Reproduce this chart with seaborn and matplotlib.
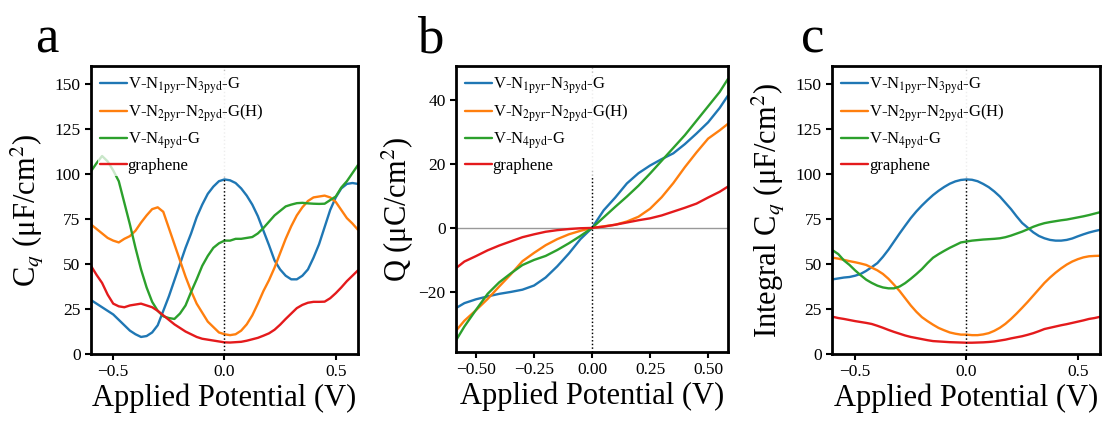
import numpy as np
import pandas as pd
import matplotlib
matplotlib.use("Agg")
import matplotlib.pyplot as plt
import seaborn as sns

# potential grids (V)
V = np.round(np.arange(-0.6, 0.6001, 0.025), 3)
V_Q = [-0.585, -0.55, -0.5, -0.45, -0.4, -0.35, -0.3, -0.25, -0.2, -0.15, -0.1, -0.05, 0.0,
       0.05, 0.1, 0.15, 0.2, 0.25, 0.3, 0.35, 0.4, 0.45, 0.5, 0.55, 0.585]

labels = [r"V-N$_{\rm 1pyr}$-N$_{\rm 3pyd}$-G",
          r"V-N$_{\rm 2pyr}$-N$_{\rm 2pyd}$-G(H)",
          r"V-N$_{\rm 4pyd}$-G",
          "graphene"]
colors = ["#1f77b4", "#ff7f0e", "#2ca02c", "#e41a1c"]

# (a) differential quantum capacitance, uF/cm2
cq_n1n3 = [30, 28, 26, 24, 22, 19, 16, 13, 11, 9.5, 10, 12, 16, 24, 32, 41, 50, 59, 67, 76, 83, 89, 93, 96, 97,
           96.5, 95, 92, 88, 83, 76.6, 68.5, 60.5, 52, 47, 43.5, 41.5, 41.5, 43.5, 47, 53.5, 61, 70.5, 80, 87,
           92, 94.5, 95, 94.5]
cq_n2n2 = [72, 69.5, 67, 64.5, 63, 62, 64, 65.5, 68.5, 73, 77, 80.5, 81.5, 79, 70, 61, 52, 43, 35, 28, 23, 18, 15, 12, 11,
           10.5, 11, 13, 16.5, 21.5, 28, 35, 41, 48, 56, 64, 71, 77, 81.5, 85, 87, 87.5, 88, 87, 84.5,
           80, 75.5, 72.5, 69]
cq_n4 = [101.5, 106, 110, 107, 102, 96, 84, 72, 59, 47, 37, 29, 24, 21, 20, 19.5, 22.5, 27, 34.5, 41.5, 49, 54.5, 59, 61.5, 63,
         63, 64, 64, 64.5, 65, 67, 70, 73.5, 77, 79.5, 82, 83, 83.8, 84, 83.7, 83.5, 83.4, 83.5, 85.5, 87.5,
         92.5, 96, 100.5, 105]
cq_gr = [49, 44, 39.5, 33, 28, 26.5, 26, 27, 27.5, 28, 27, 26, 24, 21.5, 19, 16.5, 14.5, 12.5, 11, 9.5, 8.5, 8, 7.5, 7, 6.5,
         6.4, 6.6, 6.8, 7.4, 8.2, 9, 10.2, 11.5, 13.5, 16.3, 19.5, 22.5, 25.5, 27.3, 28.5, 29, 29, 29.1, 31, 33.8,
         37, 40.5, 43.5, 46.5]

# (b) surface charge, uC/cm2
q_n1n3 = [-25, -23.5, -22.3, -21.4, -20.6, -20, -19.3, -18, -15.5, -12, -8, -3.5, 0,
          5.5, 9.5, 13.9, 17.1, 19.5, 21.5, 23.3, 26.2, 29.5, 33, 37.5, 41.3]
q_n2n2 = [-32, -29, -25.7, -22.2, -18.3, -14.5, -10.4, -7.8, -5.4, -3.5, -2, -0.9, 0,
          0.5, 1, 2, 3.5, 6, 9.6, 14, 19, 23.6, 27.9, 30.5, 32.5]
q_n4 = [-35, -30.8, -25.6, -20.6, -17, -14.2, -11.6, -10, -8.75, -6.9, -4.8, -2.5, 0,
        3.3, 6.6, 9.8, 13.2, 17, 21, 25, 29, 33.5, 38, 42.5, 46.5]
q_gr = [-12.5, -10.5, -8.8, -7, -5.5, -4.2, -2.9, -2, -1.2, -0.7, -0.35, -0.1, 0,
        0.4, 1.0, 1.7, 2.4, 3.0, 3.9, 5.1, 6.3, 7.6, 9.5, 11.3, 12.9]

# (c) integral quantum capacitance, uF/cm2
icq_n1n3 = [41.5, 42, 42.5, 42.8, 43.5, 44.5, 46.2, 48.3, 50.5, 54, 58, 62.5, 67, 71.3, 75.5, 79.2, 82.5, 85.5, 88.3, 90.7,
            92.8, 94.6, 95.9, 96.7, 97,
            96.8, 96, 94.5, 92.7, 90.3, 87.5, 84, 80.5, 76.5, 72.8, 70.2, 67.6, 65.6, 64.3, 63.4, 63, 63, 63.4, 64.2, 65.4,
            66.5, 67.5, 68.3, 69]
icq_n2n2 = [53.5, 53, 52.3, 51.6, 51, 50.3, 49.5, 48, 46.5, 44.5, 41.8, 38.5, 35, 31, 27, 23.5, 20.5, 18.3, 16.3, 14.5,
            13.2, 12, 11.3, 10.8, 10.8,
            10.5, 10.5, 10.9, 11.6, 12.9, 14.6, 16.8, 19.5, 22.5, 25.7, 29, 32.5, 36, 39.5, 42.5, 45.2, 47.6, 49.7, 51.4,
            52.7, 53.7, 54.3, 54.5, 54.6]
icq_n4 = [57.6, 55.5, 52, 49.5, 46.5, 43.8, 41.3, 39.5, 38, 37, 36.5, 36.5, 37.5, 39.4, 41.8, 44.4, 47.2, 50.5, 53.5, 55.5,
          57.3, 59, 60.5, 62, 62.5,
          63, 63.3, 63.6, 63.8, 64, 64.3, 64.9, 65.8, 66.9, 68, 69.3, 70.7, 71.8, 72.7, 73.3, 73.8, 74.3, 74.7, 75.3,
          75.9, 76.5, 77.2, 78, 78.8]
icq_gr = [20.7, 20, 19.5, 18.9, 18.3, 17.8, 17.3, 16.7, 15.7, 14.6, 13.4, 12.3, 11.3, 10.3, 9.5, 8.9, 8.3, 7.7, 7.2, 7,
          6.8, 6.6, 6.5, 6.4, 6.3,
          6.3, 6.4, 6.5, 6.7, 7, 7.5, 8, 8.7, 9.3, 9.9, 10.7, 11.6, 12.7, 13.9, 14.6, 15.3, 16, 16.6, 17.3,
          18, 18.7, 19.5, 20, 20.7]

sns.set_theme(style="ticks")
plt.rcParams["font.family"] = ["Liberation Serif", "DejaVu Serif"]
plt.rcParams["mathtext.fontset"] = "stix"
plt.rcParams.update({
    "axes.linewidth": 2.0,
    "xtick.major.width": 1.5,
    "ytick.major.width": 1.5,
    "xtick.major.size": 4,
    "ytick.major.size": 4,
    "xtick.labelsize": 12.5,
    "ytick.labelsize": 12.5,
    "axes.edgecolor": "black",
    "axes.labelcolor": "black",
    "text.color": "black",
    "xtick.color": "black",
    "ytick.color": "black",
})

fig = plt.figure(figsize=(11.08, 4.23), dpi=100)
ax_a = fig.add_axes([0.0821, 0.163, 0.241, 0.681])
ax_b = fig.add_axes([0.4116, 0.168, 0.2455, 0.676])
ax_c = fig.add_axes([0.751, 0.163, 0.2419, 0.681])

panels = [
    (ax_a, V, [cq_n1n3, cq_n2n2, cq_n4, cq_gr]),
    (ax_b, V_Q, [q_n1n3, q_n2n2, q_n4, q_gr]),
    (ax_c, V, [icq_n1n3, icq_n2n2, icq_n4, icq_gr]),
]

for ax, xs, series in panels:
    for vals, lab, col in zip(series, labels, colors):
        df = pd.DataFrame({"V": xs, "y": vals})
        sns.lineplot(data=df, x="V", y="y", color=col, label=lab, lw=1.7, ax=ax)
    leg = ax.legend(loc="upper left", frameon=True, fontsize=12, handlelength=1.6,
                    handletextpad=0.05, labelspacing=0.4, borderaxespad=0.45, borderpad=0.1,
                    fancybox=False, framealpha=0.75)
    leg.get_frame().set_edgecolor("none")
    leg.get_frame().set_facecolor("white")
    ax.set_xlabel("Applied Potential (V)", fontsize=22, labelpad=2)
    for s in ax.spines.values():
        s.set_visible(True)

# a: differential Cq
ax_a.set_xlim(-0.6, 0.6)
ax_a.set_ylim(0, 160)
ax_a.set_xticks([-0.5, 0.0, 0.5])
ax_a.set_yticks([0, 25, 50, 75, 100, 125, 150])
ax_a.set_ylabel(r"C$_q$ (μF/cm$^2$)", fontsize=22, labelpad=6)
ax_a.axvline(0, color="#bbbbbb", ls=":", lw=1, zorder=0)
ax_a.vlines(0, 0, 97, color="black", ls=":", lw=1, zorder=3)

# b: charge
ax_b.set_xlim(-0.586, 0.586)
ax_b.set_ylim(-38.75, 50.6)
ax_b.set_xticks([-0.5, -0.25, 0.0, 0.25, 0.5])
ax_b.set_yticks([-20, 0, 20, 40])
ax_b.set_ylabel(r"Q (μC/cm$^2$)", fontsize=22, labelpad=2)
ax_b.axhline(0, color="#999999", lw=1, zorder=0)
ax_b.axvline(0, color="#bbbbbb", ls=":", lw=1, zorder=0)
ax_b.vlines(0, -38.75, 18, color="black", ls=":", lw=1, zorder=3)

# c: integral Cq
ax_c.set_xlim(-0.603, 0.6)
ax_c.set_ylim(0, 160)
ax_c.set_xticks([-0.5, 0.0, 0.5])
ax_c.set_yticks([0, 25, 50, 75, 100, 125, 150])
ax_c.set_ylabel(r"Integral C$_q$ (μF/cm$^2$)", fontsize=22, labelpad=6)
ax_c.axvline(0, color="#bbbbbb", ls=":", lw=1, zorder=0)
ax_c.vlines(0, 0, 97, color="black", ls=":", lw=1, zorder=3)

for letter, xpos in [("a", 0.032), ("b", 0.376), ("c", 0.723)]:
    fig.text(xpos, 0.877, letter, fontsize=38, ha="left", va="baseline")

fig.savefig("out.png", dpi=100)
